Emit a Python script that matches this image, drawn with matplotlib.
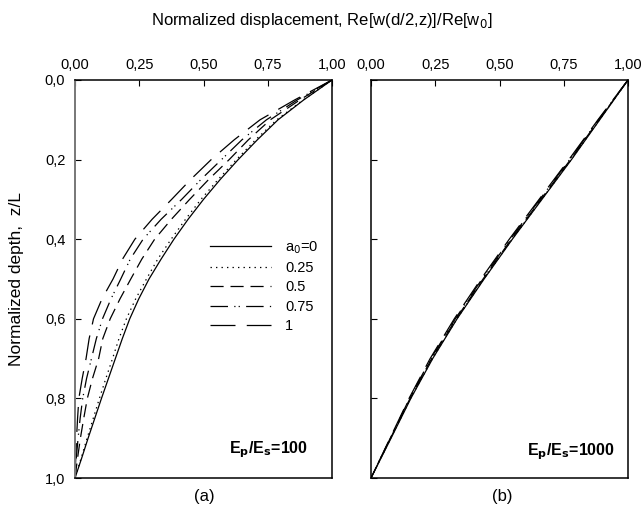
import matplotlib
matplotlib.use("Agg")
import matplotlib.pyplot as plt
from matplotlib.ticker import FuncFormatter, FixedLocator

plt.rcParams['font.family'] = ['Liberation Sans', 'DejaVu Sans']

# ---------------- data ----------------
depth = [0.0, 0.05, 0.10, 0.15, 0.20, 0.25, 0.30, 0.35, 0.40, 0.45, 0.50,
         0.55, 0.60, 0.65, 0.70, 0.75, 0.80, 0.85, 0.90, 0.95, 1.0]

labels = ["a$_0$=0", "0.25", "0.5", "0.75", "1"]

# Ep/Es = 100
w100_a0 = [1.0, 0.89, 0.79, 0.71, 0.635, 0.565, 0.50, 0.44, 0.385, 0.335, 0.288,
           0.248, 0.213, 0.184, 0.157, 0.13, 0.103, 0.077, 0.051, 0.026, 0.0]
w100_a025 = [1.0, 0.888, 0.785, 0.703, 0.628, 0.557, 0.49, 0.43, 0.374, 0.322, 0.278,
             0.236, 0.200, 0.171, 0.146, 0.12, 0.095, 0.071, 0.047, 0.024, 0.0]
w100_a05 = [1.0, 0.875, 0.76, 0.675, 0.60, 0.52, 0.446, 0.375, 0.31, 0.26, 0.217,
            0.175, 0.137, 0.108, 0.092, 0.068, 0.048, 0.034, 0.021, 0.01, 0.0]
w100_a075 = [1.0, 0.865, 0.745, 0.65, 0.57, 0.49, 0.415, 0.335, 0.265, 0.215, 0.178,
             0.14, 0.107, 0.083, 0.064, 0.045, 0.030, 0.02, 0.012, 0.005, 0.0]
w100_a1 = [1.0, 0.855, 0.72, 0.62, 0.53, 0.45, 0.376, 0.30, 0.233, 0.185, 0.148,
           0.105, 0.072, 0.055, 0.043, 0.028, 0.015, 0.01, 0.006, 0.003, 0.0]

# Ep/Es = 1000
depth_b = [0.0, 0.1, 0.2, 0.3, 0.4, 0.5, 0.6, 0.7, 0.8, 0.9, 1.0]
w1000_a0 = [1.0, 0.89, 0.78, 0.665, 0.55, 0.44, 0.335, 0.24, 0.155, 0.078, 0.0]
w1000_a025 = [1.0, 0.889, 0.779, 0.664, 0.549, 0.439, 0.334, 0.239, 0.154, 0.077, 0.0]
w1000_a05 = [1.0, 0.887, 0.776, 0.661, 0.546, 0.436, 0.331, 0.236, 0.152, 0.076, 0.0]
w1000_a075 = [1.0, 0.885, 0.773, 0.657, 0.542, 0.432, 0.328, 0.233, 0.150, 0.075, 0.0]
w1000_a1 = [1.0, 0.883, 0.770, 0.654, 0.538, 0.428, 0.324, 0.230, 0.148, 0.074, 0.0]

xticks = [0.0, 0.25, 0.5, 0.75, 1.0]
yticks = [0.0, 0.2, 0.4, 0.6, 0.8, 1.0]

# ---------------- style ----------------
lw = 0.9
styles = ['-', (0, (1.1, 3.3)), (0, (10.5, 5.5)), (0, (14, 5, 1, 2.5, 1, 5)), (0, (20, 9))]

W, H = 644, 531
fig = plt.figure(figsize=(W / 100, H / 100), dpi=100)

def box(x0, y0, x1, y1):
    return [x0 / W, 1 - y1 / H, (x1 - x0) / W, (y1 - y0) / H]

axA = fig.add_axes(box(75, 80, 332, 478))
axB = fig.add_axes(box(371, 80, 628, 478))

fmt_x = FuncFormatter(lambda v, p: f"{v:.2f}".replace('.', ','))
fmt_y = FuncFormatter(lambda v, p: f"{v:.1f}".replace('.', ','))

seriesA = [w100_a0, w100_a025, w100_a05, w100_a075, w100_a1]
seriesB = [w1000_a0, w1000_a025, w1000_a05, w1000_a075, w1000_a1]

for s, ls, lab in zip(seriesA, styles, labels):
    axA.plot(s, depth, color='black', lw=lw, linestyle=ls, label=lab)
for s, ls in zip(seriesB, styles):
    axB.plot(s, depth_b, color='black', lw=lw, linestyle=ls)

for ax in (axA, axB):
    ax.set_xlim(0, 1)
    ax.set_ylim(1, 0)
    ax.xaxis.set_major_locator(FixedLocator(xticks))
    ax.yaxis.set_major_locator(FixedLocator(yticks))
    ax.xaxis.set_major_formatter(fmt_x)
    ax.yaxis.set_major_formatter(fmt_y)
    ax.tick_params(axis='both', direction='in', length=4, width=0.8, labelsize=10.5,
                   top=True, bottom=False, labeltop=True, labelbottom=False,
                   left=True, right=False)
    ax.tick_params(axis='x', pad=5.5)
    ax.tick_params(axis='y', pad=7)
    for sp in ax.spines.values():
        sp.set_linewidth(1.1)
        sp.set_color('black')

axA.spines['left'].set_color('#777777')
axA.spines['left'].set_linewidth(1.4)
axB.tick_params(axis='y', labelleft=False)

axA.set_ylabel("Normalized depth,  z/L", fontsize=12.5)
axA.yaxis.set_label_coords((24 - 75) / 257, 0.5)

leg = axA.legend(loc='upper left', bbox_to_anchor=(0.525, 0.60), frameon=False,
                 fontsize=10.5, handlelength=4.2, handletextpad=0.95,
                 labelspacing=0.36, borderaxespad=0, borderpad=0)

axA.text(0.755, 0.07, "E$_\\mathbf{p}$/E$_\\mathbf{s}$=100", transform=axA.transAxes,
         ha='center', va='center', fontsize=11.5, fontweight='bold')
axB.text(0.78, 0.065, "E$_\\mathbf{p}$/E$_\\mathbf{s}$=1000", transform=axB.transAxes,
         ha='center', va='center', fontsize=11.5, fontweight='bold')

fig.text(322 / W, 1 - 20 / H, "Normalized displacement, Re[w(d/2,z)]/Re[w$_0$]",
         ha='center', va='center', fontsize=12)
fig.text(204 / W, 1 - 496 / H, "(a)", ha='center', va='center', fontsize=12)
fig.text(502 / W, 1 - 496 / H, "(b)", ha='center', va='center', fontsize=12)

fig.savefig("out.png", dpi=100)
